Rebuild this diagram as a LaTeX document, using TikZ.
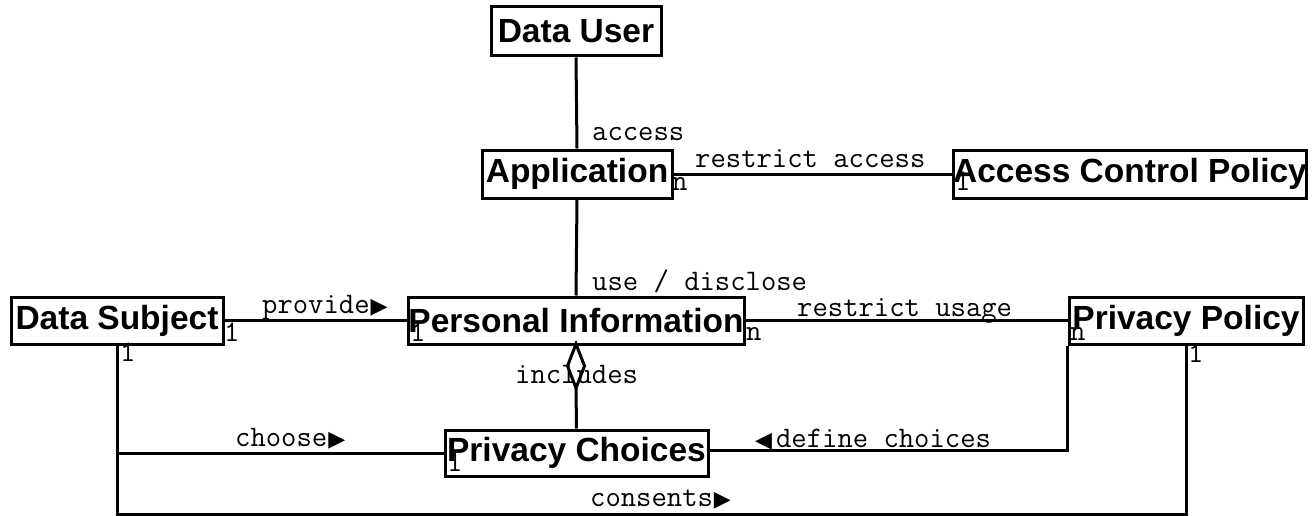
\documentclass[tikz,border=0pt]{standalone}
\usepackage{fontspec}
\setmainfont{Liberation Sans}
\newfontfamily\symf{DejaVu Sans}
\newcommand{\rtri}{{\symf\fontsize{22}{22}\selectfont\kern1pt ▶}}
\newcommand{\ltri}{{\symf\fontsize{22}{22}\selectfont ◀}}
\begin{document}
\begin{tikzpicture}[x=1pt,y=-1pt,
  entity/.style={draw, line width=3pt, fill=white, inner sep=0pt,
    font=\fontsize{33.5}{36}\selectfont\bfseries},
  lbl/.style={anchor=base west, inner sep=0pt, font=\ttfamily\fontsize{29.8}{30}\selectfont},
  conn/.style={line width=3pt}]
\useasboundingbox (0,0) rectangle (1314,516);
% entities
\node[entity, minimum width=170pt, minimum height=49pt] (du) at (576,31.5) {Data User};
\node[entity, minimum width=190pt, minimum height=48pt] (app) at (577,174) {Application};
\node[entity, minimum width=351pt, minimum height=48pt] (acp) at (1130,174) {Access Control Policy};
\node[entity, minimum width=212pt, minimum height=47pt] (ds) at (117,320.5) {Data Subject};
\node[entity, minimum width=336pt, minimum height=47pt] (pi) at (576,320.5) {Personal Information};
\node[entity, minimum width=234pt, minimum height=47pt] (pp) at (1186,320.5) {Privacy Policy};
\node[entity, minimum width=263pt, minimum height=46pt] (pc) at (576.5,453) {Privacy Choices};
\coordinate (dsb) at (117,514);
\coordinate (diatop) at (576,344);
\coordinate (diabot) at (576,388);
% connectors
\draw[conn] (du.south) -- (app.north);
\draw[conn] (app.south) -- (pi.north);
\draw[conn] (app.east) -- (acp.west);
\draw[conn] (ds.east) -- (pi.west);
\draw[conn] (pi.east) -- (pp.west);
\draw[conn] (ds.south) |- (pc.west);
\draw[conn] (pp.south west) |- ([yshift=3pt]pc.east);
\draw[conn] (ds.south) -- (dsb) -| (pp.south);
\draw[conn, fill=white] (diatop) -- ++(8.5,22) -- (diabot) -- ++(-8.5,-22) -- cycle;
\draw[conn] (diabot) -- (pc.north);
% labels
\node[lbl] (lacc) at (592,141) {access};
\node[lbl] (lra) at (695,167) {restrict access};
\node[lbl] (lud) at (592,290) {use / disclose};
\node[lbl] (lpr) at (262,313) {provide\rtri};
\node[lbl] (lru) at (797,316) {restrict usage};
\node[lbl] (linc) at (515,383) {includes};
\node[lbl] (lch) at (235,446) {choose\rtri};
\node[lbl] (ldc) at (755,447) {\ltri\kern4pt define choices};
\node[lbl] (lco) at (590,506) {consents\rtri};
% multiplicities
\node[lbl] (m1) at (672,190) {n};
\node[lbl] (m2) at (955,190) {1};
\node[lbl] (m3) at (224,341) {1};
\node[lbl] (m4) at (410,341) {1};
\node[lbl] (m5) at (746,340) {n};
\node[lbl] (m6) at (1070,340) {n};
\node[lbl] (m7) at (120,361) {1};
\node[lbl] (m8) at (1188,362) {1};
\node[lbl] (m9) at (447,471) {1};
\end{tikzpicture}
\end{document}
